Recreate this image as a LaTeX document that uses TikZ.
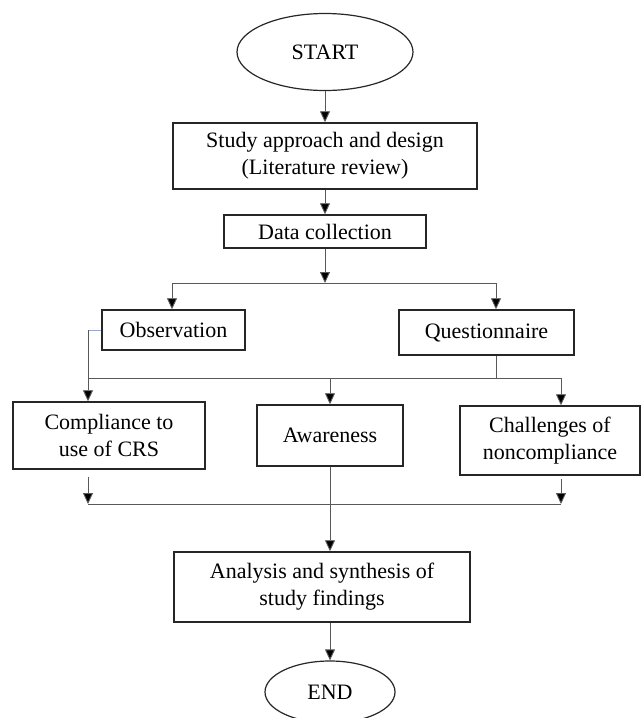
\documentclass[tikz,border=0pt]{standalone}
\usepackage{fontspec}
\setmainfont{Liberation Serif}
\usetikzlibrary{shapes.geometric,arrows.meta,calc}

\begin{document}
\begin{tikzpicture}[x=1pt,y=-1pt,
  font=\fontsize{22}{27}\selectfont,
  stepbox/.style={rectangle, draw=black!85, line width=1.5pt, align=center, inner sep=0pt},
  termbox/.style={ellipse, draw=black!85, line width=1.2pt, inner sep=0pt},
  link/.style={draw=black!65, line width=0.9pt},
  flow/.style={link, -{Triangle[length=11pt,width=10pt,fill=black]}}]

\useasboundingbox (0,0) rectangle (643,718);

\begin{scope}
\node [termbox, minimum width=176pt, minimum height=77pt] (start) at (325,52) {START};
\node [stepbox, minimum width=304pt, minimum height=66pt] (study) at (325,156) {Study approach and design\\(Literature review)};
\node [stepbox, minimum width=202pt, minimum height=33pt] (data) at (325,231.5) {Data collection};
\node [stepbox, minimum width=143pt, minimum height=40pt] (obs) at (173.5,330) {Observation};
\node [stepbox, minimum width=175pt, minimum height=45pt] (quest) at (486.5,332.5) {Questionnaire};
\node [stepbox, minimum width=192pt, minimum height=67pt] (comp) at (109,435.5) {Compliance to\\use of CRS};
\node [stepbox, minimum width=146pt, minimum height=61pt] (aware) at (330,435.5) {Awareness};
\node [stepbox, minimum width=180pt, minimum height=69pt] (chal) at (550,440.5) {Challenges of\\noncompliance};
\node [stepbox, minimum width=296pt, minimum height=70pt] (anal) at (322,587) {Analysis and synthesis of\\study findings};
\node [termbox, minimum width=130pt, minimum height=62pt] (end) at (330,692) {END};
\end{scope}

\path (172,283) coordinate (S1l);
\path (496,283) coordinate (S1r);
\path (88,378) coordinate (S2l);
\path (561,378) coordinate (S2r);
\path (496,378) coordinate (S2q);
\path (88,504) coordinate (S3l);
\path (561,504) coordinate (S3r);

\draw [flow] (start) -- (study);
\draw [flow] (study) -- (data);
\draw [flow] (data) -- (data |- S1l);
\draw [link] (S1l) -- (S1r);
\draw [flow] (S1l) -- (S1l |- obs.north);
\draw [flow] (S1r) -- (S1r |- quest.north);

\draw [link, draw={rgb,255:red,150;green,170;blue,210}] (obs.west) -- (obs.west -| S2l);
\draw [flow] (obs.west -| S2l) -- (S2l |- comp.north);
\draw [link] (S2l) -- (S2r);
\draw [link] (quest.south -| S2q) -- (S2q);
\draw [flow] (S2l -| aware.north) -- (aware.north);
\draw [flow] (S2r) -- (S2r |- chal.north);

\draw [flow] ($(comp.south -| S3l)+(0,7)$) -- (S3l);
\draw [flow] ($(chal.south -| S3r)+(0,3)$) -- (S3r);
\draw [link] (S3l) -- (S3r);
\draw [flow] (aware.south) -- (aware.south |- anal.north);
\draw [flow] (end.north |- anal.south) -- (end.north);

\end{tikzpicture}
\end{document}
